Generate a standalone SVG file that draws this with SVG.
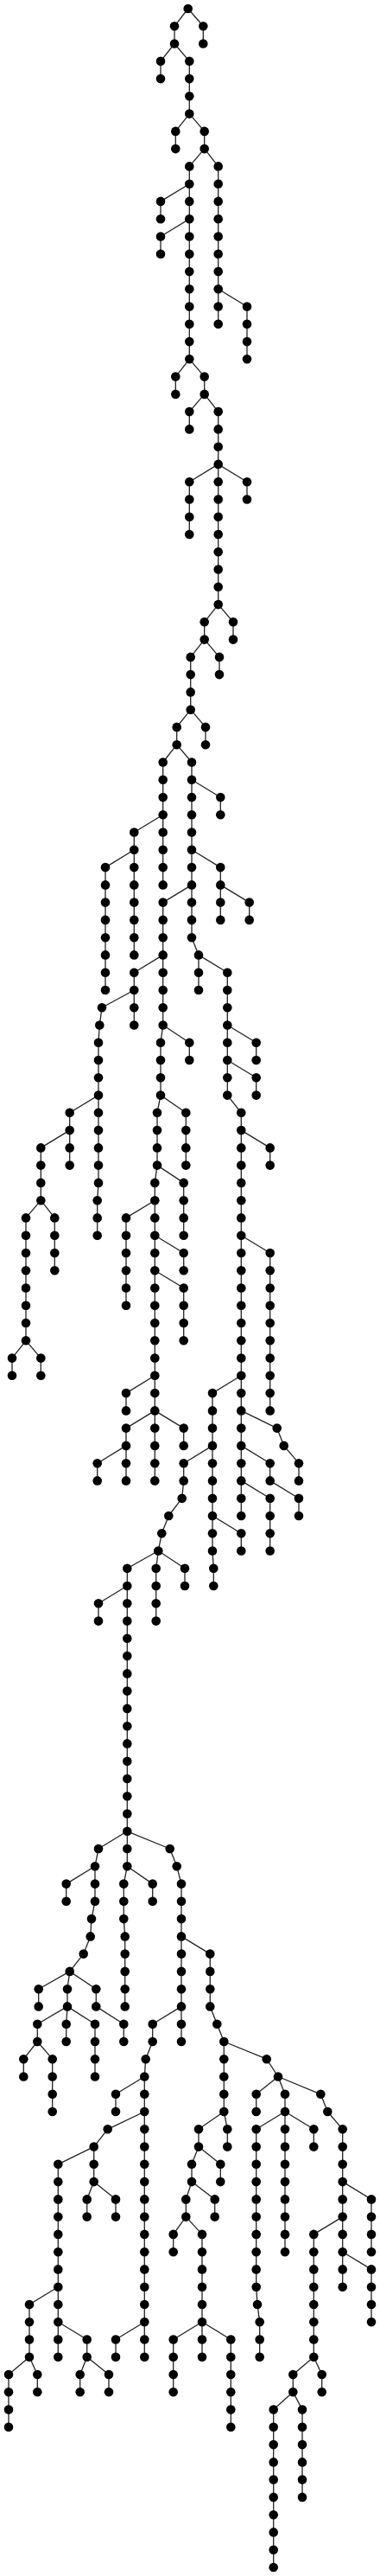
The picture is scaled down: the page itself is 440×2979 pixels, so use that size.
<svg xmlns="http://www.w3.org/2000/svg" width="440" height="2979" viewBox="0 0 440 2979">
<style>
.e path{stroke:#222;stroke-width:1.3;fill:none}
circle{fill:#000}
</style>
<rect width="440" height="2979" fill="#fff"/>
<g id="connectors" class="e">
<path d="M217.7 10L202 30.3"/><path d="M217.7 10L235.3 30.3"/>
<path d="M202 30.3L202 50.5"/><path d="M235.3 30.3L235.3 50.5"/>
<path d="M202 50.5L186 70.8"/><path d="M202 50.5L219.3 70.8"/>
<path d="M186 70.8L186 91.1"/><path d="M219.3 70.8L219.3 91.1"/>
<path d="M219.3 91.1L219.3 111.3"/>
<path d="M219.3 111.3L219.3 131.6"/>
<path d="M219.3 131.6L203.3 151.9"/><path d="M219.3 131.6L236.7 151.9"/>
<path d="M203.3 151.9L203.3 172.1"/><path d="M236.7 151.9L236.7 172.1"/>
<path d="M236.7 172.1L219.3 192.4"/><path d="M236.7 172.1L252.7 192.4"/>
<path d="M219.3 192.4L219.3 212.7"/><path d="M252.7 192.4L252.7 212.7"/>
<path d="M219.3 212.7L186 232.9"/><path d="M219.3 212.7L219.3 232.9"/><path d="M252.7 212.7L252.7 232.9"/>
<path d="M186 232.9L186 253.2"/><path d="M219.3 232.9L219.3 253.2"/><path d="M252.7 232.9L252.7 253.2"/>
<path d="M219.3 253.2L186 273.5"/><path d="M219.3 253.2L219.3 273.5"/><path d="M252.7 253.2L252.7 273.5"/>
<path d="M186 273.5L186 293.7"/><path d="M219.3 273.5L219.3 293.7"/><path d="M252.7 273.5L252.7 293.7"/>
<path d="M219.3 293.7L219.3 314"/><path d="M252.7 293.7L252.7 314"/>
<path d="M219.3 314L219.3 334.3"/><path d="M252.7 314L252.7 334.3"/>
<path d="M219.3 334.3L219.3 354.5"/><path d="M252.7 334.3L252.7 354.5"/><path d="M252.7 334.3L286 354.5"/>
<path d="M219.3 354.5L219.3 374.8"/><path d="M252.7 354.5L252.7 374.8"/><path d="M286 354.5L286 374.8"/>
<path d="M219.3 374.8L219.3 395.1"/><path d="M286 374.8L286 395.1"/>
<path d="M219.3 395.1L219.3 415.3"/><path d="M286 395.1L286 415.3"/>
<path d="M219.3 415.3L203.3 435.6"/><path d="M219.3 415.3L236.7 435.6"/>
<path d="M203.3 435.6L203.3 455.9"/><path d="M236.7 435.6L236.7 455.9"/>
<path d="M236.7 455.9L219.3 476.1"/><path d="M236.7 455.9L252.7 476.1"/>
<path d="M219.3 476.1L219.3 496.4"/><path d="M252.7 476.1L252.7 496.4"/>
<path d="M252.7 496.4L252.7 516.7"/>
<path d="M252.7 516.7L252.7 536.9"/>
<path d="M252.7 536.9L219.3 557.2"/><path d="M252.7 536.9L252.7 557.2"/><path d="M252.7 536.9L286 557.2"/>
<path d="M219.3 557.2L219.3 577.5"/><path d="M252.7 557.2L252.7 577.5"/><path d="M286 557.2L286 577.5"/>
<path d="M219.3 577.5L219.3 597.7"/><path d="M252.7 577.5L252.7 597.7"/>
<path d="M219.3 597.7L219.3 618"/><path d="M252.7 597.7L252.7 618"/>
<path d="M252.7 618L252.7 638.3"/><path d="M252.7 638.3L252.7 658.5"/><path d="M252.7 658.5L252.7 678.8"/><path d="M252.7 678.8L252.7 699.1"/>
<path d="M252.7 699.1L236.7 719.3"/><path d="M252.7 699.1L270 719.3"/>
<path d="M236.7 719.3L236.7 739.6"/><path d="M270 719.3L270 739.6"/>
<path d="M236.7 739.6L220.7 759.9"/><path d="M236.7 739.6L254 759.9"/>
<path d="M220.7 759.9L220.7 780.1"/><path d="M254 759.9L254 780.1"/>
<path d="M220.7 780.1L220.7 800.4"/>
<path d="M220.7 800.4L220.7 820.7"/>
<path d="M220.7 820.7L204.7 840.9"/><path d="M220.7 820.7L238 840.9"/>
<path d="M204.7 840.9L204.7 861.2"/><path d="M238 840.9L238 861.2"/>
<path d="M204.7 861.2L188.7 881.5"/><path d="M204.7 861.2L222 881.5"/>
<path d="M188.7 881.5L188.7 901.7"/><path d="M222 881.5L222 901.7"/>
<path d="M188.7 901.7L188.7 922"/><path d="M222 901.7L222 922"/><path d="M222 901.7L255.3 922"/>
<path d="M188.7 922L188.7 942.3"/><path d="M222 922L222 942.3"/><path d="M255.3 922L255.3 942.3"/>
<path d="M188.7 942.3L155.3 962.5"/><path d="M188.7 942.3L188.7 962.5"/><path d="M222 942.3L222 962.5"/>
<path d="M155.3 962.5L155.3 982.8"/><path d="M188.7 962.5L188.7 982.8"/><path d="M222 962.5L222 982.8"/>
<path d="M155.3 982.8L122 1003.1"/><path d="M155.3 982.8L155.3 1003.1"/><path d="M188.7 982.8L188.7 1003.1"/><path d="M222 982.8L222 1003.1"/><path d="M222 982.8L255.3 1003.1"/>
<path d="M122 1003.1L122 1023.4"/><path d="M155.3 1003.1L155.3 1023.4"/><path d="M188.7 1003.1L188.7 1023.4"/><path d="M222 1003.1L222 1023.4"/><path d="M255.3 1003.1L255.3 1023.4"/>
<path d="M122 1023.4L122 1043.6"/><path d="M155.3 1023.4L155.3 1043.6"/><path d="M222 1023.4L188.7 1043.6"/><path d="M222 1023.4L222 1043.6"/><path d="M255.3 1023.4L255.3 1043.6"/><path d="M255.3 1023.4L288.7 1043.6"/>
<path d="M122 1043.6L122 1063.9"/><path d="M155.3 1043.6L155.3 1063.9"/><path d="M188.7 1043.6L188.7 1063.9"/><path d="M222 1043.6L222 1063.9"/><path d="M255.3 1043.6L255.3 1063.9"/><path d="M288.7 1043.6L288.7 1063.9"/>
<path d="M122 1063.9L122 1084.2"/><path d="M155.3 1063.9L155.3 1084.2"/><path d="M188.7 1063.9L188.7 1084.2"/><path d="M222 1063.9L222 1084.2"/>
<path d="M122 1084.2L122 1104.4"/><path d="M155.3 1084.2L155.3 1104.4"/><path d="M188.7 1084.2L188.7 1104.4"/><path d="M222 1084.2L230 1104.4"/>
<path d="M122 1104.4L122 1124.7"/><path d="M188.7 1104.4L155.3 1124.7"/><path d="M188.7 1104.4L188.7 1124.7"/><path d="M230 1104.4L230 1124.7"/><path d="M230 1104.4L263.3 1124.7"/>
<path d="M122 1124.7L122 1145"/><path d="M155.3 1124.7L155.3 1145"/><path d="M188.7 1124.7L188.7 1145"/><path d="M230 1124.7L230 1145"/><path d="M263.3 1124.7L263.3 1145"/>
<path d="M155.3 1145L118 1165.2"/><path d="M155.3 1145L155.3 1165.2"/><path d="M188.7 1145L188.7 1165.2"/><path d="M263.3 1145L263.3 1165.2"/>
<path d="M118 1165.2L115.3 1185.5"/><path d="M155.3 1165.2L155.3 1185.5"/><path d="M188.7 1165.2L188.7 1185.5"/><path d="M263.3 1165.2L263.3 1185.5"/>
<path d="M115.3 1185.5L114 1205.8"/><path d="M188.7 1185.5L186 1205.8"/><path d="M188.7 1185.5L219.3 1205.8"/><path d="M263.3 1185.5L263.3 1205.8"/><path d="M263.3 1185.5L296.7 1205.8"/>
<path d="M114 1205.8L114 1226"/><path d="M186 1205.8L186 1226"/><path d="M219.3 1205.8L219.3 1226"/><path d="M263.3 1205.8L263.3 1226"/><path d="M296.7 1205.8L296.7 1226"/>
<path d="M114 1226L114 1246.3"/><path d="M186 1226L186 1246.3"/><path d="M263.3 1226L263.3 1246.3"/><path d="M263.3 1226L296.7 1246.3"/>
<path d="M114 1246.3L114 1266.6"/><path d="M186 1246.3L186 1266.6"/><path d="M263.3 1246.3L263.3 1266.6"/><path d="M296.7 1246.3L296.7 1266.6"/>
<path d="M114 1266.6L80.7 1286.8"/><path d="M114 1266.6L114 1286.8"/><path d="M186 1266.6L182 1286.8"/><path d="M186 1266.6L215.3 1286.8"/><path d="M263.3 1266.6L279.3 1286.8"/>
<path d="M80.7 1286.8L80.7 1307.1"/><path d="M114 1286.8L114 1307.1"/><path d="M182 1286.8L182 1307.1"/><path d="M215.3 1286.8L215.3 1307.1"/><path d="M279.3 1286.8L279.3 1307.1"/>
<path d="M80.7 1307.1L47.3 1327.4"/><path d="M80.7 1307.1L80.7 1327.4"/><path d="M114 1307.1L114 1327.4"/><path d="M182 1307.1L182 1327.4"/><path d="M215.3 1307.1L215.3 1327.4"/><path d="M279.3 1307.1L279.3 1327.4"/><path d="M279.3 1307.1L312.7 1327.4"/>
<path d="M47.3 1327.4L47.3 1347.6"/><path d="M80.7 1327.4L80.7 1347.6"/><path d="M114 1327.4L114 1347.6"/><path d="M182 1327.4L182 1347.6"/><path d="M215.3 1327.4L215.3 1347.6"/><path d="M279.3 1327.4L279.3 1347.6"/><path d="M312.7 1327.4L312.7 1347.6"/>
<path d="M47.3 1347.6L47.3 1367.9"/><path d="M114 1347.6L114 1367.9"/><path d="M182 1347.6L179.3 1367.9"/><path d="M182 1347.6L212.7 1367.9"/><path d="M279.3 1347.6L279.3 1367.9"/>
<path d="M47.3 1367.9L47.3 1388.2"/><path d="M114 1367.9L112.7 1388.2"/><path d="M179.3 1367.9L179.3 1388.2"/><path d="M212.7 1367.9L212.7 1388.2"/><path d="M279.3 1367.9L279.3 1388.2"/>
<path d="M47.3 1388.2L30 1408.4"/><path d="M47.3 1388.2L63.3 1408.4"/><path d="M112.7 1388.2L112.7 1408.4"/><path d="M179.3 1388.2L146 1408.4"/><path d="M179.3 1388.2L179.3 1408.4"/><path d="M212.7 1388.2L212.7 1408.4"/><path d="M279.3 1388.2L279.3 1408.4"/>
<path d="M30 1408.4L30 1428.7"/><path d="M63.3 1408.4L63.3 1428.7"/><path d="M112.7 1408.4L112.7 1428.7"/><path d="M146 1408.4L146 1428.7"/><path d="M179.3 1408.4L179.3 1428.7"/><path d="M212.7 1408.4L212.7 1428.7"/><path d="M279.3 1408.4L279.3 1428.7"/>
<path d="M30 1428.7L30 1449"/><path d="M63.3 1428.7L63.3 1449"/><path d="M146 1428.7L146 1449"/><path d="M179.3 1428.7L179.3 1449"/><path d="M179.3 1428.7L212.7 1449"/><path d="M279.3 1428.7L279.3 1449"/><path d="M279.3 1428.7L312.7 1449"/>
<path d="M30 1449L30 1469.2"/><path d="M63.3 1449L63.3 1469.2"/><path d="M146 1449L146 1469.2"/><path d="M179.3 1449L179.3 1469.2"/><path d="M212.7 1449L212.7 1469.2"/><path d="M279.3 1449L279.3 1469.2"/><path d="M312.7 1449L312.7 1469.2"/>
<path d="M30 1469.2L30 1489.5"/><path d="M146 1469.2L146 1489.5"/><path d="M179.3 1469.2L179.3 1489.5"/><path d="M179.3 1469.2L212.7 1489.5"/><path d="M279.3 1469.2L279.3 1489.5"/><path d="M312.7 1469.2L312.7 1489.5"/>
<path d="M30 1489.5L30 1509.8"/><path d="M146 1489.5L146 1509.8"/><path d="M179.3 1489.5L179.3 1509.8"/><path d="M212.7 1489.5L212.7 1509.8"/><path d="M279.3 1489.5L279.3 1509.8"/><path d="M312.7 1489.5L312.7 1509.8"/>
<path d="M30 1509.8L30 1530"/><path d="M179.3 1509.8L179.3 1530"/><path d="M212.7 1509.8L212.7 1530"/><path d="M279.3 1509.8L279.3 1530"/><path d="M312.7 1509.8L312.7 1530"/>
<path d="M30 1530L30 1550.3"/><path d="M179.3 1530L179.3 1550.3"/><path d="M212.7 1530L212.7 1550.3"/><path d="M279.3 1530L279.3 1550.3"/><path d="M312.7 1530L312.7 1550.3"/>
<path d="M30 1550.3L14 1570.6"/><path d="M30 1550.3L47.3 1570.6"/><path d="M179.3 1550.3L179.3 1570.6"/><path d="M279.3 1550.3L279.3 1570.6"/><path d="M312.7 1550.3L312.7 1570.6"/>
<path d="M14 1570.6L14 1590.8"/><path d="M47.3 1570.6L47.3 1590.8"/><path d="M179.3 1570.6L179.3 1590.8"/><path d="M279.3 1570.6L279.3 1590.8"/><path d="M312.7 1570.6L312.7 1590.8"/>
<path d="M179.3 1590.8L146 1611.1"/><path d="M179.3 1590.8L179.3 1611.1"/><path d="M279.3 1590.8L246 1611.1"/><path d="M279.3 1590.8L279.3 1611.1"/><path d="M312.7 1590.8L312.7 1611.1"/>
<path d="M146 1611.1L146 1631.4"/><path d="M179.3 1611.1L179.3 1631.4"/><path d="M246 1611.1L246 1631.4"/><path d="M279.3 1611.1L279.3 1631.4"/><path d="M312.7 1611.1L312.7 1631.4"/>
<path d="M179.3 1631.4L146 1651.6"/><path d="M179.3 1631.4L179.3 1651.6"/><path d="M179.3 1631.4L212.7 1651.6"/><path d="M246 1631.4L246 1651.6"/><path d="M279.3 1631.4L279.3 1651.6"/><path d="M279.3 1631.4L320.7 1651.6"/>
<path d="M146 1651.6L146 1671.9"/><path d="M179.3 1651.6L179.3 1671.9"/><path d="M212.7 1651.6L212.7 1671.9"/><path d="M246 1651.6L246 1671.9"/><path d="M279.3 1651.6L279.3 1671.9"/><path d="M320.7 1651.6L328.7 1671.9"/>
<path d="M146 1671.9L112.7 1692.2"/><path d="M146 1671.9L146 1692.2"/><path d="M179.3 1671.9L179.3 1692.2"/><path d="M246 1671.9L212.7 1692.2"/><path d="M246 1671.9L246 1692.2"/><path d="M279.3 1671.9L279.3 1692.2"/><path d="M279.3 1671.9L312.7 1692.2"/><path d="M328.7 1671.9L346 1692.2"/>
<path d="M112.7 1692.2L112.7 1712.4"/><path d="M146 1692.2L146 1712.4"/><path d="M179.3 1692.2L179.3 1712.4"/><path d="M212.7 1692.2L212.7 1712.4"/><path d="M246 1692.2L246 1712.4"/><path d="M279.3 1692.2L279.3 1712.4"/><path d="M312.7 1692.2L312.7 1712.4"/><path d="M346 1692.2L346 1712.4"/>
<path d="M212.7 1712.4L210.7 1732.7"/><path d="M246 1712.4L246 1732.7"/><path d="M279.3 1712.4L279.3 1732.7"/><path d="M279.3 1712.4L312.7 1732.7"/><path d="M312.7 1712.4L346 1732.7"/>
<path d="M210.7 1732.7L195.3 1753"/><path d="M246 1732.7L246 1753"/><path d="M279.3 1732.7L279.3 1753"/><path d="M312.7 1732.7L312.7 1753"/><path d="M346 1732.7L346 1753"/>
<path d="M195.3 1753L187.3 1773.2"/><path d="M246 1753L246 1773.2"/><path d="M246 1753L279.3 1773.2"/><path d="M312.7 1753L312.7 1773.2"/>
<path d="M187.3 1773.2L183.3 1793.5"/><path d="M246 1773.2L246 1793.5"/><path d="M279.3 1773.2L279.3 1793.5"/><path d="M312.7 1773.2L312.7 1793.5"/>
<path d="M183.3 1793.5L147.3 1813.8"/><path d="M183.3 1793.5L180.7 1813.8"/><path d="M183.3 1793.5L214 1813.8"/><path d="M246 1793.5L247.3 1813.8"/>
<path d="M147.3 1813.8L147.3 1834"/><path d="M180.7 1813.8L180.7 1834"/><path d="M214 1813.8L214 1834"/><path d="M247.3 1813.8L247.3 1834"/>
<path d="M147.3 1834L114 1854.3"/><path d="M147.3 1834L147.3 1854.3"/><path d="M180.7 1834L180.7 1854.3"/>
<path d="M114 1854.3L114 1874.6"/><path d="M147.3 1854.3L147.3 1874.6"/><path d="M180.7 1854.3L180.7 1874.6"/>
<path d="M147.3 1874.6L147.3 1894.8"/><path d="M147.3 1894.8L147.3 1915.1"/><path d="M147.3 1915.1L147.3 1935.4"/><path d="M147.3 1935.4L147.3 1955.6"/><path d="M147.3 1955.6L147.3 1975.9"/><path d="M147.3 1975.9L147.3 1996.2"/><path d="M147.3 1996.2L147.3 2016.4"/><path d="M147.3 2016.4L147.3 2036.7"/><path d="M147.3 2036.7L147.3 2057"/><path d="M147.3 2057L147.3 2077.2"/><path d="M147.3 2077.2L147.3 2097.5"/><path d="M147.3 2097.5L147.3 2117.8"/>
<path d="M147.3 2117.8L114 2138"/><path d="M147.3 2117.8L147.3 2138"/><path d="M147.3 2117.8L196.7 2138"/>
<path d="M114 2138L110 2158.3"/><path d="M147.3 2138L147.3 2158.3"/><path d="M196.7 2138L204.7 2158.3"/>
<path d="M110 2158.3L76.7 2178.6"/><path d="M110 2158.3L110 2178.6"/><path d="M147.3 2158.3L143.3 2178.6"/><path d="M147.3 2158.3L176.7 2178.6"/><path d="M204.7 2158.3L210 2178.6"/>
<path d="M76.7 2178.6L76.7 2198.8"/><path d="M110 2178.6L110 2198.8"/><path d="M143.3 2178.6L143.3 2198.8"/><path d="M176.7 2178.6L176.7 2198.8"/><path d="M210 2178.6L210 2198.8"/>
<path d="M110 2198.8L106 2219.1"/><path d="M143.3 2198.8L143.3 2219.1"/><path d="M210 2198.8L210 2219.1"/>
<path d="M106 2219.1L104.7 2239.4"/><path d="M143.3 2219.1L144.7 2239.4"/><path d="M210 2219.1L210 2239.4"/>
<path d="M104.7 2239.4L96.7 2259.6"/><path d="M144.7 2239.4L144.7 2259.6"/><path d="M210 2239.4L210 2259.6"/><path d="M210 2239.4L243.3 2259.6"/>
<path d="M96.7 2259.6L80.7 2279.9"/><path d="M144.7 2259.6L144.7 2279.9"/><path d="M210 2259.6L210 2279.9"/><path d="M243.3 2259.6L243.3 2279.9"/>
<path d="M80.7 2279.9L44.7 2300.2"/><path d="M80.7 2279.9L78 2300.2"/><path d="M80.7 2279.9L111.3 2300.2"/><path d="M144.7 2279.9L144.7 2300.2"/><path d="M210 2279.9L210 2300.2"/><path d="M243.3 2279.9L243.3 2300.2"/>
<path d="M44.7 2300.2L44.7 2320.4"/><path d="M78 2300.2L78 2320.4"/><path d="M111.3 2300.2L111.3 2320.4"/><path d="M144.7 2300.2L144.7 2320.4"/><path d="M210 2300.2L210 2320.4"/><path d="M243.3 2300.2L243.3 2320.4"/>
<path d="M78 2320.4L43.3 2340.7"/><path d="M78 2320.4L76.7 2340.7"/><path d="M78 2320.4L110 2340.7"/><path d="M111.3 2320.4L143.3 2340.7"/><path d="M210 2320.4L176.7 2340.7"/><path d="M210 2320.4L210 2340.7"/><path d="M243.3 2320.4L251.3 2340.7"/>
<path d="M43.3 2340.7L43.3 2361"/><path d="M76.7 2340.7L76.7 2361"/><path d="M110 2340.7L110 2361"/><path d="M143.3 2340.7L143.3 2361"/><path d="M176.7 2340.7L176.7 2361"/><path d="M210 2340.7L210 2361"/><path d="M251.3 2340.7L259.3 2361"/>
<path d="M43.3 2361L27.3 2381.2"/><path d="M43.3 2361L60.7 2381.2"/><path d="M110 2361L110 2381.2"/><path d="M176.7 2361L168.7 2381.2"/><path d="M259.3 2361L259.3 2381.2"/><path d="M259.3 2361L308.7 2381.2"/>
<path d="M27.3 2381.2L27.3 2401.5"/><path d="M60.7 2381.2L60.7 2401.5"/><path d="M110 2381.2L110 2401.5"/><path d="M168.7 2381.2L167.3 2401.5"/><path d="M259.3 2381.2L259.3 2401.5"/><path d="M308.7 2381.2L322 2401.5"/>
<path d="M60.7 2401.5L60.7 2421.8"/><path d="M167.3 2401.5L134 2421.8"/><path d="M167.3 2401.5L167.3 2421.8"/><path d="M259.3 2401.5L259.3 2421.8"/><path d="M322 2401.5L296.7 2421.8"/><path d="M322 2401.5L330 2421.8"/><path d="M322 2401.5L371.3 2421.8"/>
<path d="M60.7 2421.8L60.7 2442"/><path d="M134 2421.8L134 2442"/><path d="M167.3 2421.8L167.3 2442"/><path d="M259.3 2421.8L259.3 2442"/><path d="M296.7 2421.8L296.7 2442"/><path d="M330 2421.8L330 2442"/><path d="M371.3 2421.8L379.3 2442"/>
<path d="M167.3 2442L124.7 2462.3"/><path d="M167.3 2442L167.3 2462.3"/><path d="M259.3 2442L230 2462.3"/><path d="M259.3 2442L263.3 2462.3"/><path d="M330 2442L296.7 2462.3"/><path d="M330 2442L330 2462.3"/><path d="M330 2442L363.3 2462.3"/><path d="M379.3 2442L396.7 2462.3"/>
<path d="M124.7 2462.3L108.7 2482.6"/><path d="M167.3 2462.3L167.3 2482.6"/><path d="M230 2462.3L230 2482.6"/><path d="M263.3 2462.3L263.3 2482.6"/><path d="M296.7 2462.3L296.7 2482.6"/><path d="M330 2462.3L330 2482.6"/><path d="M363.3 2462.3L363.3 2482.6"/><path d="M396.7 2462.3L396.7 2482.6"/>
<path d="M108.7 2482.6L67.3 2502.8"/><path d="M108.7 2482.6L108.7 2502.8"/><path d="M167.3 2482.6L167.3 2502.8"/><path d="M230 2482.6L222 2502.8"/><path d="M230 2482.6L255.3 2502.8"/><path d="M296.7 2482.6L296.7 2502.8"/><path d="M330 2482.6L330 2502.8"/><path d="M396.7 2482.6L396.7 2502.8"/>
<path d="M67.3 2502.8L67.3 2523.1"/><path d="M108.7 2502.8L108.7 2523.1"/><path d="M167.3 2502.8L167.3 2523.1"/><path d="M222 2502.8L222 2523.1"/><path d="M255.3 2502.8L255.3 2523.1"/><path d="M296.7 2502.8L296.7 2523.1"/><path d="M330 2502.8L330 2523.1"/><path d="M396.7 2502.8L396.7 2523.1"/>
<path d="M67.3 2523.1L67.3 2543.4"/><path d="M108.7 2523.1L100.7 2543.4"/><path d="M108.7 2523.1L134 2543.4"/><path d="M167.3 2523.1L167.3 2543.4"/><path d="M222 2523.1L215.3 2543.4"/><path d="M222 2523.1L248.7 2543.4"/><path d="M296.7 2523.1L296.7 2543.4"/><path d="M330 2523.1L330 2543.4"/><path d="M396.7 2523.1L396.7 2543.4"/><path d="M396.7 2523.1L430 2543.4"/>
<path d="M67.3 2543.4L67.3 2563.6"/><path d="M100.7 2543.4L100.7 2563.6"/><path d="M134 2543.4L134 2563.6"/><path d="M167.3 2543.4L167.3 2563.6"/><path d="M215.3 2543.4L215.3 2563.6"/><path d="M248.7 2543.4L248.7 2563.6"/><path d="M296.7 2543.4L296.7 2563.6"/><path d="M330 2543.4L330 2563.6"/><path d="M396.7 2543.4L396.7 2563.6"/><path d="M430 2543.4L430 2563.6"/>
<path d="M67.3 2563.6L67.3 2583.9"/><path d="M167.3 2563.6L167.3 2583.9"/><path d="M215.3 2563.6L200.7 2583.9"/><path d="M215.3 2563.6L234 2583.9"/><path d="M296.7 2563.6L296.7 2583.9"/><path d="M330 2563.6L330 2583.9"/><path d="M396.7 2563.6L363.3 2583.9"/><path d="M396.7 2563.6L396.7 2583.9"/><path d="M430 2563.6L430 2583.9"/>
<path d="M67.3 2583.9L67.3 2604.2"/><path d="M167.3 2583.9L167.3 2604.2"/><path d="M200.7 2583.9L200.7 2604.2"/><path d="M234 2583.9L234 2604.2"/><path d="M296.7 2583.9L296.7 2604.2"/><path d="M330 2583.9L330 2604.2"/><path d="M363.3 2583.9L363.3 2604.2"/><path d="M396.7 2583.9L396.7 2604.2"/><path d="M430 2583.9L430 2604.2"/>
<path d="M67.3 2604.2L67.3 2624.4"/><path d="M167.3 2604.2L167.3 2624.4"/><path d="M234 2604.2L234 2624.4"/><path d="M296.7 2604.2L296.7 2624.4"/><path d="M363.3 2604.2L363.3 2624.4"/><path d="M396.7 2604.2L396.7 2624.4"/><path d="M396.7 2604.2L430 2624.4"/>
<path d="M67.3 2624.4L67.3 2644.7"/><path d="M167.3 2624.4L167.3 2644.7"/><path d="M234 2624.4L234 2644.7"/><path d="M296.7 2624.4L296.7 2644.7"/><path d="M363.3 2624.4L363.3 2644.7"/><path d="M396.7 2624.4L396.7 2644.7"/><path d="M430 2624.4L430 2644.7"/>
<path d="M67.3 2644.7L34 2665"/><path d="M67.3 2644.7L67.3 2665"/><path d="M167.3 2644.7L167.3 2665"/><path d="M234 2644.7L234 2665"/><path d="M296.7 2644.7L298 2665"/><path d="M363.3 2644.7L363.3 2665"/><path d="M430 2644.7L430 2665"/>
<path d="M34 2665L34 2685.2"/><path d="M67.3 2665L67.3 2685.2"/><path d="M167.3 2665L167.3 2685.2"/><path d="M234 2665L234 2685.2"/><path d="M298 2665L300.7 2685.2"/><path d="M363.3 2665L363.3 2685.2"/><path d="M430 2665L430 2685.2"/>
<path d="M34 2685.2L34 2705.5"/><path d="M67.3 2685.2L67.3 2705.5"/><path d="M67.3 2685.2L100.7 2705.5"/><path d="M167.3 2685.2L134 2705.5"/><path d="M167.3 2685.2L167.3 2705.5"/><path d="M234 2685.2L200.7 2705.5"/><path d="M234 2685.2L234 2705.5"/><path d="M234 2685.2L267.3 2705.5"/><path d="M300.7 2685.2L300.7 2705.5"/><path d="M363.3 2685.2L363.3 2705.5"/>
<path d="M34 2705.5L34 2725.8"/><path d="M67.3 2705.5L67.3 2725.8"/><path d="M100.7 2705.5L100.7 2725.8"/><path d="M134 2705.5L134 2725.8"/><path d="M167.3 2705.5L167.3 2725.8"/><path d="M200.7 2705.5L200.7 2725.8"/><path d="M234 2705.5L234 2725.8"/><path d="M267.3 2705.5L267.3 2725.8"/><path d="M300.7 2705.5L300.7 2725.8"/><path d="M363.3 2705.5L363.3 2725.8"/>
<path d="M34 2725.8L10 2746"/><path d="M34 2725.8L43.3 2746"/><path d="M100.7 2725.8L92.7 2746"/><path d="M100.7 2725.8L126 2746"/><path d="M200.7 2725.8L200.7 2746"/><path d="M267.3 2725.8L267.3 2746"/><path d="M363.3 2725.8L339.3 2746"/><path d="M363.3 2725.8L372.7 2746"/>
<path d="M10 2746L10 2766.3"/><path d="M43.3 2746L43.3 2766.3"/><path d="M92.7 2746L92.7 2766.3"/><path d="M126 2746L126 2766.3"/><path d="M200.7 2746L200.7 2766.3"/><path d="M267.3 2746L267.3 2766.3"/><path d="M339.3 2746L339.3 2766.3"/><path d="M372.7 2746L372.7 2766.3"/>
<path d="M10 2766.3L10 2786.6"/><path d="M267.3 2766.3L267.3 2786.6"/><path d="M339.3 2766.3L316.7 2786.6"/><path d="M339.3 2766.3L350 2786.6"/>
<path d="M10 2786.6L10 2806.8"/><path d="M267.3 2786.6L267.3 2806.8"/><path d="M316.7 2786.6L316.7 2806.8"/><path d="M350 2786.6L350 2806.8"/>
<path d="M316.7 2806.8L316.7 2827.1"/><path d="M350 2806.8L350 2827.1"/>
<path d="M316.7 2827.1L316.7 2847.4"/><path d="M350 2827.1L350 2847.4"/>
<path d="M316.7 2847.4L316.7 2867.6"/><path d="M350 2847.4L350 2867.6"/>
<path d="M316.7 2867.6L316.7 2887.9"/><path d="M350 2867.6L350 2887.9"/>
<path d="M316.7 2887.9L316.7 2908.2"/><path d="M316.7 2908.2L316.7 2928.4"/><path d="M316.7 2928.4L316.7 2948.7"/><path d="M316.7 2948.7L316.7 2969"/>
</g>
<g id="nodes">
<g id="n0_0"><circle cx="217.7" cy="10" r="5.3"/></g>
<g id="n1_0"><circle cx="202" cy="30.3" r="5.3"/></g><g id="n1_1"><circle cx="235.3" cy="30.3" r="5.3"/></g>
<g id="n2_0"><circle cx="202" cy="50.5" r="5.3"/></g><g id="n2_1"><circle cx="235.3" cy="50.5" r="5.3"/></g>
<g id="n3_0"><circle cx="186" cy="70.8" r="5.3"/></g><g id="n3_1"><circle cx="219.3" cy="70.8" r="5.3"/></g>
<g id="n4_0"><circle cx="186" cy="91.1" r="5.3"/></g><g id="n4_1"><circle cx="219.3" cy="91.1" r="5.3"/></g>
<g id="n5_0"><circle cx="219.3" cy="111.3" r="5.3"/></g>
<g id="n6_0"><circle cx="219.3" cy="131.6" r="5.3"/></g>
<g id="n7_0"><circle cx="203.3" cy="151.9" r="5.3"/></g><g id="n7_1"><circle cx="236.7" cy="151.9" r="5.3"/></g>
<g id="n8_0"><circle cx="203.3" cy="172.1" r="5.3"/></g><g id="n8_1"><circle cx="236.7" cy="172.1" r="5.3"/></g>
<g id="n9_0"><circle cx="219.3" cy="192.4" r="5.3"/></g><g id="n9_1"><circle cx="252.7" cy="192.4" r="5.3"/></g>
<g id="n10_0"><circle cx="219.3" cy="212.7" r="5.3"/></g><g id="n10_1"><circle cx="252.7" cy="212.7" r="5.3"/></g>
<g id="n11_0"><circle cx="186" cy="232.9" r="5.3"/></g><g id="n11_1"><circle cx="219.3" cy="232.9" r="5.3"/></g><g id="n11_2"><circle cx="252.7" cy="232.9" r="5.3"/></g>
<g id="n12_0"><circle cx="186" cy="253.2" r="5.3"/></g><g id="n12_1"><circle cx="219.3" cy="253.2" r="5.3"/></g><g id="n12_2"><circle cx="252.7" cy="253.2" r="5.3"/></g>
<g id="n13_0"><circle cx="186" cy="273.5" r="5.3"/></g><g id="n13_1"><circle cx="219.3" cy="273.5" r="5.3"/></g><g id="n13_2"><circle cx="252.7" cy="273.5" r="5.3"/></g>
<g id="n14_0"><circle cx="186" cy="293.7" r="5.3"/></g><g id="n14_1"><circle cx="219.3" cy="293.7" r="5.3"/></g><g id="n14_2"><circle cx="252.7" cy="293.7" r="5.3"/></g>
<g id="n15_0"><circle cx="219.3" cy="314" r="5.3"/></g><g id="n15_1"><circle cx="252.7" cy="314" r="5.3"/></g>
<g id="n16_0"><circle cx="219.3" cy="334.3" r="5.3"/></g><g id="n16_1"><circle cx="252.7" cy="334.3" r="5.3"/></g>
<g id="n17_0"><circle cx="219.3" cy="354.5" r="5.3"/></g><g id="n17_1"><circle cx="252.7" cy="354.5" r="5.3"/></g><g id="n17_2"><circle cx="286" cy="354.5" r="5.3"/></g>
<g id="n18_0"><circle cx="219.3" cy="374.8" r="5.3"/></g><g id="n18_1"><circle cx="252.7" cy="374.8" r="5.3"/></g><g id="n18_2"><circle cx="286" cy="374.8" r="5.3"/></g>
<g id="n19_0"><circle cx="219.3" cy="395.1" r="5.3"/></g><g id="n19_1"><circle cx="286" cy="395.1" r="5.3"/></g>
<g id="n20_0"><circle cx="219.3" cy="415.3" r="5.3"/></g><g id="n20_1"><circle cx="286" cy="415.3" r="5.3"/></g>
<g id="n21_0"><circle cx="203.3" cy="435.6" r="5.3"/></g><g id="n21_1"><circle cx="236.7" cy="435.6" r="5.3"/></g>
<g id="n22_0"><circle cx="203.3" cy="455.9" r="5.3"/></g><g id="n22_1"><circle cx="236.7" cy="455.9" r="5.3"/></g>
<g id="n23_0"><circle cx="219.3" cy="476.1" r="5.3"/></g><g id="n23_1"><circle cx="252.7" cy="476.1" r="5.3"/></g>
<g id="n24_0"><circle cx="219.3" cy="496.4" r="5.3"/></g><g id="n24_1"><circle cx="252.7" cy="496.4" r="5.3"/></g>
<g id="n25_0"><circle cx="252.7" cy="516.7" r="5.3"/></g>
<g id="n26_0"><circle cx="252.7" cy="536.9" r="5.3"/></g>
<g id="n27_0"><circle cx="219.3" cy="557.2" r="5.3"/></g><g id="n27_1"><circle cx="252.7" cy="557.2" r="5.3"/></g><g id="n27_2"><circle cx="286" cy="557.2" r="5.3"/></g>
<g id="n28_0"><circle cx="219.3" cy="577.5" r="5.3"/></g><g id="n28_1"><circle cx="252.7" cy="577.5" r="5.3"/></g><g id="n28_2"><circle cx="286" cy="577.5" r="5.3"/></g>
<g id="n29_0"><circle cx="219.3" cy="597.7" r="5.3"/></g><g id="n29_1"><circle cx="252.7" cy="597.7" r="5.3"/></g>
<g id="n30_0"><circle cx="219.3" cy="618" r="5.3"/></g><g id="n30_1"><circle cx="252.7" cy="618" r="5.3"/></g>
<g id="n31_0"><circle cx="252.7" cy="638.3" r="5.3"/></g>
<g id="n32_0"><circle cx="252.7" cy="658.5" r="5.3"/></g>
<g id="n33_0"><circle cx="252.7" cy="678.8" r="5.3"/></g>
<g id="n34_0"><circle cx="252.7" cy="699.1" r="5.3"/></g>
<g id="n35_0"><circle cx="236.7" cy="719.3" r="5.3"/></g><g id="n35_1"><circle cx="270" cy="719.3" r="5.3"/></g>
<g id="n36_0"><circle cx="236.7" cy="739.6" r="5.3"/></g><g id="n36_1"><circle cx="270" cy="739.6" r="5.3"/></g>
<g id="n37_0"><circle cx="220.7" cy="759.9" r="5.3"/></g><g id="n37_1"><circle cx="254" cy="759.9" r="5.3"/></g>
<g id="n38_0"><circle cx="220.7" cy="780.1" r="5.3"/></g><g id="n38_1"><circle cx="254" cy="780.1" r="5.3"/></g>
<g id="n39_0"><circle cx="220.7" cy="800.4" r="5.3"/></g>
<g id="n40_0"><circle cx="220.7" cy="820.7" r="5.3"/></g>
<g id="n41_0"><circle cx="204.7" cy="840.9" r="5.3"/></g><g id="n41_1"><circle cx="238" cy="840.9" r="5.3"/></g>
<g id="n42_0"><circle cx="204.7" cy="861.2" r="5.3"/></g><g id="n42_1"><circle cx="238" cy="861.2" r="5.3"/></g>
<g id="n43_0"><circle cx="188.7" cy="881.5" r="5.3"/></g><g id="n43_1"><circle cx="222" cy="881.5" r="5.3"/></g>
<g id="n44_0"><circle cx="188.7" cy="901.7" r="5.3"/></g><g id="n44_1"><circle cx="222" cy="901.7" r="5.3"/></g>
<g id="n45_0"><circle cx="188.7" cy="922" r="5.3"/></g><g id="n45_1"><circle cx="222" cy="922" r="5.3"/></g><g id="n45_2"><circle cx="255.3" cy="922" r="5.3"/></g>
<g id="n46_0"><circle cx="188.7" cy="942.3" r="5.3"/></g><g id="n46_1"><circle cx="222" cy="942.3" r="5.3"/></g><g id="n46_2"><circle cx="255.3" cy="942.3" r="5.3"/></g>
<g id="n47_0"><circle cx="155.3" cy="962.5" r="5.3"/></g><g id="n47_1"><circle cx="188.7" cy="962.5" r="5.3"/></g><g id="n47_2"><circle cx="222" cy="962.5" r="5.3"/></g>
<g id="n48_0"><circle cx="155.3" cy="982.8" r="5.3"/></g><g id="n48_1"><circle cx="188.7" cy="982.8" r="5.3"/></g><g id="n48_2"><circle cx="222" cy="982.8" r="5.3"/></g>
<g id="n49_0"><circle cx="122" cy="1003.1" r="5.3"/></g><g id="n49_1"><circle cx="155.3" cy="1003.1" r="5.3"/></g><g id="n49_2"><circle cx="188.7" cy="1003.1" r="5.3"/></g><g id="n49_3"><circle cx="222" cy="1003.1" r="5.3"/></g><g id="n49_4"><circle cx="255.3" cy="1003.1" r="5.3"/></g>
<g id="n50_0"><circle cx="122" cy="1023.4" r="5.3"/></g><g id="n50_1"><circle cx="155.3" cy="1023.4" r="5.3"/></g><g id="n50_2"><circle cx="188.7" cy="1023.4" r="5.3"/></g><g id="n50_3"><circle cx="222" cy="1023.4" r="5.3"/></g><g id="n50_4"><circle cx="255.3" cy="1023.4" r="5.3"/></g>
<g id="n51_0"><circle cx="122" cy="1043.6" r="5.3"/></g><g id="n51_1"><circle cx="155.3" cy="1043.6" r="5.3"/></g><g id="n51_2"><circle cx="188.7" cy="1043.6" r="5.3"/></g><g id="n51_3"><circle cx="222" cy="1043.6" r="5.3"/></g><g id="n51_4"><circle cx="255.3" cy="1043.6" r="5.3"/></g><g id="n51_5"><circle cx="288.7" cy="1043.6" r="5.3"/></g>
<g id="n52_0"><circle cx="122" cy="1063.9" r="5.3"/></g><g id="n52_1"><circle cx="155.3" cy="1063.9" r="5.3"/></g><g id="n52_2"><circle cx="188.7" cy="1063.9" r="5.3"/></g><g id="n52_3"><circle cx="222" cy="1063.9" r="5.3"/></g><g id="n52_4"><circle cx="255.3" cy="1063.9" r="5.3"/></g><g id="n52_5"><circle cx="288.7" cy="1063.9" r="5.3"/></g>
<g id="n53_0"><circle cx="122" cy="1084.2" r="5.3"/></g><g id="n53_1"><circle cx="155.3" cy="1084.2" r="5.3"/></g><g id="n53_2"><circle cx="188.7" cy="1084.2" r="5.3"/></g><g id="n53_3"><circle cx="222" cy="1084.2" r="5.3"/></g>
<g id="n54_0"><circle cx="122" cy="1104.4" r="5.3"/></g><g id="n54_1"><circle cx="155.3" cy="1104.4" r="5.3"/></g><g id="n54_2"><circle cx="188.7" cy="1104.4" r="5.3"/></g><g id="n54_3"><circle cx="230" cy="1104.4" r="5.3"/></g>
<g id="n55_0"><circle cx="122" cy="1124.7" r="5.3"/></g><g id="n55_1"><circle cx="155.3" cy="1124.7" r="5.3"/></g><g id="n55_2"><circle cx="188.7" cy="1124.7" r="5.3"/></g><g id="n55_3"><circle cx="230" cy="1124.7" r="5.3"/></g><g id="n55_4"><circle cx="263.3" cy="1124.7" r="5.3"/></g>
<g id="n56_0"><circle cx="122" cy="1145" r="5.3"/></g><g id="n56_1"><circle cx="155.3" cy="1145" r="5.3"/></g><g id="n56_2"><circle cx="188.7" cy="1145" r="5.3"/></g><g id="n56_3"><circle cx="230" cy="1145" r="5.3"/></g><g id="n56_4"><circle cx="263.3" cy="1145" r="5.3"/></g>
<g id="n57_0"><circle cx="118" cy="1165.2" r="5.3"/></g><g id="n57_1"><circle cx="155.3" cy="1165.2" r="5.3"/></g><g id="n57_2"><circle cx="188.7" cy="1165.2" r="5.3"/></g><g id="n57_3"><circle cx="263.3" cy="1165.2" r="5.3"/></g>
<g id="n58_0"><circle cx="115.3" cy="1185.5" r="5.3"/></g><g id="n58_1"><circle cx="155.3" cy="1185.5" r="5.3"/></g><g id="n58_2"><circle cx="188.7" cy="1185.5" r="5.3"/></g><g id="n58_3"><circle cx="263.3" cy="1185.5" r="5.3"/></g>
<g id="n59_0"><circle cx="114" cy="1205.8" r="5.3"/></g><g id="n59_1"><circle cx="186" cy="1205.8" r="5.3"/></g><g id="n59_2"><circle cx="219.3" cy="1205.8" r="5.3"/></g><g id="n59_3"><circle cx="263.3" cy="1205.8" r="5.3"/></g><g id="n59_4"><circle cx="296.7" cy="1205.8" r="5.3"/></g>
<g id="n60_0"><circle cx="114" cy="1226" r="5.3"/></g><g id="n60_1"><circle cx="186" cy="1226" r="5.3"/></g><g id="n60_2"><circle cx="219.3" cy="1226" r="5.3"/></g><g id="n60_3"><circle cx="263.3" cy="1226" r="5.3"/></g><g id="n60_4"><circle cx="296.7" cy="1226" r="5.3"/></g>
<g id="n61_0"><circle cx="114" cy="1246.3" r="5.3"/></g><g id="n61_1"><circle cx="186" cy="1246.3" r="5.3"/></g><g id="n61_2"><circle cx="263.3" cy="1246.3" r="5.3"/></g><g id="n61_3"><circle cx="296.7" cy="1246.3" r="5.3"/></g>
<g id="n62_0"><circle cx="114" cy="1266.6" r="5.3"/></g><g id="n62_1"><circle cx="186" cy="1266.6" r="5.3"/></g><g id="n62_2"><circle cx="263.3" cy="1266.6" r="5.3"/></g><g id="n62_3"><circle cx="296.7" cy="1266.6" r="5.3"/></g>
<g id="n63_0"><circle cx="80.7" cy="1286.8" r="5.3"/></g><g id="n63_1"><circle cx="114" cy="1286.8" r="5.3"/></g><g id="n63_2"><circle cx="182" cy="1286.8" r="5.3"/></g><g id="n63_3"><circle cx="215.3" cy="1286.8" r="5.3"/></g><g id="n63_4"><circle cx="279.3" cy="1286.8" r="5.3"/></g>
<g id="n64_0"><circle cx="80.7" cy="1307.1" r="5.3"/></g><g id="n64_1"><circle cx="114" cy="1307.1" r="5.3"/></g><g id="n64_2"><circle cx="182" cy="1307.1" r="5.3"/></g><g id="n64_3"><circle cx="215.3" cy="1307.1" r="5.3"/></g><g id="n64_4"><circle cx="279.3" cy="1307.1" r="5.3"/></g>
<g id="n65_0"><circle cx="47.3" cy="1327.4" r="5.3"/></g><g id="n65_1"><circle cx="80.7" cy="1327.4" r="5.3"/></g><g id="n65_2"><circle cx="114" cy="1327.4" r="5.3"/></g><g id="n65_3"><circle cx="182" cy="1327.4" r="5.3"/></g><g id="n65_4"><circle cx="215.3" cy="1327.4" r="5.3"/></g><g id="n65_5"><circle cx="279.3" cy="1327.4" r="5.3"/></g><g id="n65_6"><circle cx="312.7" cy="1327.4" r="5.3"/></g>
<g id="n66_0"><circle cx="47.3" cy="1347.6" r="5.3"/></g><g id="n66_1"><circle cx="80.7" cy="1347.6" r="5.3"/></g><g id="n66_2"><circle cx="114" cy="1347.6" r="5.3"/></g><g id="n66_3"><circle cx="182" cy="1347.6" r="5.3"/></g><g id="n66_4"><circle cx="215.3" cy="1347.6" r="5.3"/></g><g id="n66_5"><circle cx="279.3" cy="1347.6" r="5.3"/></g><g id="n66_6"><circle cx="312.7" cy="1347.6" r="5.3"/></g>
<g id="n67_0"><circle cx="47.3" cy="1367.9" r="5.3"/></g><g id="n67_1"><circle cx="114" cy="1367.9" r="5.3"/></g><g id="n67_2"><circle cx="179.3" cy="1367.9" r="5.3"/></g><g id="n67_3"><circle cx="212.7" cy="1367.9" r="5.3"/></g><g id="n67_4"><circle cx="279.3" cy="1367.9" r="5.3"/></g>
<g id="n68_0"><circle cx="47.3" cy="1388.2" r="5.3"/></g><g id="n68_1"><circle cx="112.7" cy="1388.2" r="5.3"/></g><g id="n68_2"><circle cx="179.3" cy="1388.2" r="5.3"/></g><g id="n68_3"><circle cx="212.7" cy="1388.2" r="5.3"/></g><g id="n68_4"><circle cx="279.3" cy="1388.2" r="5.3"/></g>
<g id="n69_0"><circle cx="30" cy="1408.4" r="5.3"/></g><g id="n69_1"><circle cx="63.3" cy="1408.4" r="5.3"/></g><g id="n69_2"><circle cx="112.7" cy="1408.4" r="5.3"/></g><g id="n69_3"><circle cx="146" cy="1408.4" r="5.3"/></g><g id="n69_4"><circle cx="179.3" cy="1408.4" r="5.3"/></g><g id="n69_5"><circle cx="212.7" cy="1408.4" r="5.3"/></g><g id="n69_6"><circle cx="279.3" cy="1408.4" r="5.3"/></g>
<g id="n70_0"><circle cx="30" cy="1428.7" r="5.3"/></g><g id="n70_1"><circle cx="63.3" cy="1428.7" r="5.3"/></g><g id="n70_2"><circle cx="112.7" cy="1428.7" r="5.3"/></g><g id="n70_3"><circle cx="146" cy="1428.7" r="5.3"/></g><g id="n70_4"><circle cx="179.3" cy="1428.7" r="5.3"/></g><g id="n70_5"><circle cx="212.7" cy="1428.7" r="5.3"/></g><g id="n70_6"><circle cx="279.3" cy="1428.7" r="5.3"/></g>
<g id="n71_0"><circle cx="30" cy="1449" r="5.3"/></g><g id="n71_1"><circle cx="63.3" cy="1449" r="5.3"/></g><g id="n71_2"><circle cx="146" cy="1449" r="5.3"/></g><g id="n71_3"><circle cx="179.3" cy="1449" r="5.3"/></g><g id="n71_4"><circle cx="212.7" cy="1449" r="5.3"/></g><g id="n71_5"><circle cx="279.3" cy="1449" r="5.3"/></g><g id="n71_6"><circle cx="312.7" cy="1449" r="5.3"/></g>
<g id="n72_0"><circle cx="30" cy="1469.2" r="5.3"/></g><g id="n72_1"><circle cx="63.3" cy="1469.2" r="5.3"/></g><g id="n72_2"><circle cx="146" cy="1469.2" r="5.3"/></g><g id="n72_3"><circle cx="179.3" cy="1469.2" r="5.3"/></g><g id="n72_4"><circle cx="212.7" cy="1469.2" r="5.3"/></g><g id="n72_5"><circle cx="279.3" cy="1469.2" r="5.3"/></g><g id="n72_6"><circle cx="312.7" cy="1469.2" r="5.3"/></g>
<g id="n73_0"><circle cx="30" cy="1489.5" r="5.3"/></g><g id="n73_1"><circle cx="146" cy="1489.5" r="5.3"/></g><g id="n73_2"><circle cx="179.3" cy="1489.5" r="5.3"/></g><g id="n73_3"><circle cx="212.7" cy="1489.5" r="5.3"/></g><g id="n73_4"><circle cx="279.3" cy="1489.5" r="5.3"/></g><g id="n73_5"><circle cx="312.7" cy="1489.5" r="5.3"/></g>
<g id="n74_0"><circle cx="30" cy="1509.8" r="5.3"/></g><g id="n74_1"><circle cx="146" cy="1509.8" r="5.3"/></g><g id="n74_2"><circle cx="179.3" cy="1509.8" r="5.3"/></g><g id="n74_3"><circle cx="212.7" cy="1509.8" r="5.3"/></g><g id="n74_4"><circle cx="279.3" cy="1509.8" r="5.3"/></g><g id="n74_5"><circle cx="312.7" cy="1509.8" r="5.3"/></g>
<g id="n75_0"><circle cx="30" cy="1530" r="5.3"/></g><g id="n75_1"><circle cx="179.3" cy="1530" r="5.3"/></g><g id="n75_2"><circle cx="212.7" cy="1530" r="5.3"/></g><g id="n75_3"><circle cx="279.3" cy="1530" r="5.3"/></g><g id="n75_4"><circle cx="312.7" cy="1530" r="5.3"/></g>
<g id="n76_0"><circle cx="30" cy="1550.3" r="5.3"/></g><g id="n76_1"><circle cx="179.3" cy="1550.3" r="5.3"/></g><g id="n76_2"><circle cx="212.7" cy="1550.3" r="5.3"/></g><g id="n76_3"><circle cx="279.3" cy="1550.3" r="5.3"/></g><g id="n76_4"><circle cx="312.7" cy="1550.3" r="5.3"/></g>
<g id="n77_0"><circle cx="14" cy="1570.6" r="5.3"/></g><g id="n77_1"><circle cx="47.3" cy="1570.6" r="5.3"/></g><g id="n77_2"><circle cx="179.3" cy="1570.6" r="5.3"/></g><g id="n77_3"><circle cx="279.3" cy="1570.6" r="5.3"/></g><g id="n77_4"><circle cx="312.7" cy="1570.6" r="5.3"/></g>
<g id="n78_0"><circle cx="14" cy="1590.8" r="5.3"/></g><g id="n78_1"><circle cx="47.3" cy="1590.8" r="5.3"/></g><g id="n78_2"><circle cx="179.3" cy="1590.8" r="5.3"/></g><g id="n78_3"><circle cx="279.3" cy="1590.8" r="5.3"/></g><g id="n78_4"><circle cx="312.7" cy="1590.8" r="5.3"/></g>
<g id="n79_0"><circle cx="146" cy="1611.1" r="5.3"/></g><g id="n79_1"><circle cx="179.3" cy="1611.1" r="5.3"/></g><g id="n79_2"><circle cx="246" cy="1611.1" r="5.3"/></g><g id="n79_3"><circle cx="279.3" cy="1611.1" r="5.3"/></g><g id="n79_4"><circle cx="312.7" cy="1611.1" r="5.3"/></g>
<g id="n80_0"><circle cx="146" cy="1631.4" r="5.3"/></g><g id="n80_1"><circle cx="179.3" cy="1631.4" r="5.3"/></g><g id="n80_2"><circle cx="246" cy="1631.4" r="5.3"/></g><g id="n80_3"><circle cx="279.3" cy="1631.4" r="5.3"/></g><g id="n80_4"><circle cx="312.7" cy="1631.4" r="5.3"/></g>
<g id="n81_0"><circle cx="146" cy="1651.6" r="5.3"/></g><g id="n81_1"><circle cx="179.3" cy="1651.6" r="5.3"/></g><g id="n81_2"><circle cx="212.7" cy="1651.6" r="5.3"/></g><g id="n81_3"><circle cx="246" cy="1651.6" r="5.3"/></g><g id="n81_4"><circle cx="279.3" cy="1651.6" r="5.3"/></g><g id="n81_5"><circle cx="320.7" cy="1651.6" r="5.3"/></g>
<g id="n82_0"><circle cx="146" cy="1671.9" r="5.3"/></g><g id="n82_1"><circle cx="179.3" cy="1671.9" r="5.3"/></g><g id="n82_2"><circle cx="212.7" cy="1671.9" r="5.3"/></g><g id="n82_3"><circle cx="246" cy="1671.9" r="5.3"/></g><g id="n82_4"><circle cx="279.3" cy="1671.9" r="5.3"/></g><g id="n82_5"><circle cx="328.7" cy="1671.9" r="5.3"/></g>
<g id="n83_0"><circle cx="112.7" cy="1692.2" r="5.3"/></g><g id="n83_1"><circle cx="146" cy="1692.2" r="5.3"/></g><g id="n83_2"><circle cx="179.3" cy="1692.2" r="5.3"/></g><g id="n83_3"><circle cx="212.7" cy="1692.2" r="5.3"/></g><g id="n83_4"><circle cx="246" cy="1692.2" r="5.3"/></g><g id="n83_5"><circle cx="279.3" cy="1692.2" r="5.3"/></g><g id="n83_6"><circle cx="312.7" cy="1692.2" r="5.3"/></g><g id="n83_7"><circle cx="346" cy="1692.2" r="5.3"/></g>
<g id="n84_0"><circle cx="112.7" cy="1712.4" r="5.3"/></g><g id="n84_1"><circle cx="146" cy="1712.4" r="5.3"/></g><g id="n84_2"><circle cx="179.3" cy="1712.4" r="5.3"/></g><g id="n84_3"><circle cx="212.7" cy="1712.4" r="5.3"/></g><g id="n84_4"><circle cx="246" cy="1712.4" r="5.3"/></g><g id="n84_5"><circle cx="279.3" cy="1712.4" r="5.3"/></g><g id="n84_6"><circle cx="312.7" cy="1712.4" r="5.3"/></g><g id="n84_7"><circle cx="346" cy="1712.4" r="5.3"/></g>
<g id="n85_0"><circle cx="210.7" cy="1732.7" r="5.3"/></g><g id="n85_1"><circle cx="246" cy="1732.7" r="5.3"/></g><g id="n85_2"><circle cx="279.3" cy="1732.7" r="5.3"/></g><g id="n85_3"><circle cx="312.7" cy="1732.7" r="5.3"/></g><g id="n85_4"><circle cx="346" cy="1732.7" r="5.3"/></g>
<g id="n86_0"><circle cx="195.3" cy="1753" r="5.3"/></g><g id="n86_1"><circle cx="246" cy="1753" r="5.3"/></g><g id="n86_2"><circle cx="279.3" cy="1753" r="5.3"/></g><g id="n86_3"><circle cx="312.7" cy="1753" r="5.3"/></g><g id="n86_4"><circle cx="346" cy="1753" r="5.3"/></g>
<g id="n87_0"><circle cx="187.3" cy="1773.2" r="5.3"/></g><g id="n87_1"><circle cx="246" cy="1773.2" r="5.3"/></g><g id="n87_2"><circle cx="279.3" cy="1773.2" r="5.3"/></g><g id="n87_3"><circle cx="312.7" cy="1773.2" r="5.3"/></g>
<g id="n88_0"><circle cx="183.3" cy="1793.5" r="5.3"/></g><g id="n88_1"><circle cx="246" cy="1793.5" r="5.3"/></g><g id="n88_2"><circle cx="279.3" cy="1793.5" r="5.3"/></g><g id="n88_3"><circle cx="312.7" cy="1793.5" r="5.3"/></g>
<g id="n89_0"><circle cx="147.3" cy="1813.8" r="5.3"/></g><g id="n89_1"><circle cx="180.7" cy="1813.8" r="5.3"/></g><g id="n89_2"><circle cx="214" cy="1813.8" r="5.3"/></g><g id="n89_3"><circle cx="247.3" cy="1813.8" r="5.3"/></g>
<g id="n90_0"><circle cx="147.3" cy="1834" r="5.3"/></g><g id="n90_1"><circle cx="180.7" cy="1834" r="5.3"/></g><g id="n90_2"><circle cx="214" cy="1834" r="5.3"/></g><g id="n90_3"><circle cx="247.3" cy="1834" r="5.3"/></g>
<g id="n91_0"><circle cx="114" cy="1854.3" r="5.3"/></g><g id="n91_1"><circle cx="147.3" cy="1854.3" r="5.3"/></g><g id="n91_2"><circle cx="180.7" cy="1854.3" r="5.3"/></g>
<g id="n92_0"><circle cx="114" cy="1874.6" r="5.3"/></g><g id="n92_1"><circle cx="147.3" cy="1874.6" r="5.3"/></g><g id="n92_2"><circle cx="180.7" cy="1874.6" r="5.3"/></g>
<g id="n93_0"><circle cx="147.3" cy="1894.8" r="5.3"/></g>
<g id="n94_0"><circle cx="147.3" cy="1915.1" r="5.3"/></g>
<g id="n95_0"><circle cx="147.3" cy="1935.4" r="5.3"/></g>
<g id="n96_0"><circle cx="147.3" cy="1955.6" r="5.3"/></g>
<g id="n97_0"><circle cx="147.3" cy="1975.9" r="5.3"/></g>
<g id="n98_0"><circle cx="147.3" cy="1996.2" r="5.3"/></g>
<g id="n99_0"><circle cx="147.3" cy="2016.4" r="5.3"/></g>
<g id="n100_0"><circle cx="147.3" cy="2036.7" r="5.3"/></g>
<g id="n101_0"><circle cx="147.3" cy="2057" r="5.3"/></g>
<g id="n102_0"><circle cx="147.3" cy="2077.2" r="5.3"/></g>
<g id="n103_0"><circle cx="147.3" cy="2097.5" r="5.3"/></g>
<g id="n104_0"><circle cx="147.3" cy="2117.8" r="5.3"/></g>
<g id="n105_0"><circle cx="114" cy="2138" r="5.3"/></g><g id="n105_1"><circle cx="147.3" cy="2138" r="5.3"/></g><g id="n105_2"><circle cx="196.7" cy="2138" r="5.3"/></g>
<g id="n106_0"><circle cx="110" cy="2158.3" r="5.3"/></g><g id="n106_1"><circle cx="147.3" cy="2158.3" r="5.3"/></g><g id="n106_2"><circle cx="204.7" cy="2158.3" r="5.3"/></g>
<g id="n107_0"><circle cx="76.7" cy="2178.6" r="5.3"/></g><g id="n107_1"><circle cx="110" cy="2178.6" r="5.3"/></g><g id="n107_2"><circle cx="143.3" cy="2178.6" r="5.3"/></g><g id="n107_3"><circle cx="176.7" cy="2178.6" r="5.3"/></g><g id="n107_4"><circle cx="210" cy="2178.6" r="5.3"/></g>
<g id="n108_0"><circle cx="76.7" cy="2198.8" r="5.3"/></g><g id="n108_1"><circle cx="110" cy="2198.8" r="5.3"/></g><g id="n108_2"><circle cx="143.3" cy="2198.8" r="5.3"/></g><g id="n108_3"><circle cx="176.7" cy="2198.8" r="5.3"/></g><g id="n108_4"><circle cx="210" cy="2198.8" r="5.3"/></g>
<g id="n109_0"><circle cx="106" cy="2219.1" r="5.3"/></g><g id="n109_1"><circle cx="143.3" cy="2219.1" r="5.3"/></g><g id="n109_2"><circle cx="210" cy="2219.1" r="5.3"/></g>
<g id="n110_0"><circle cx="104.7" cy="2239.4" r="5.3"/></g><g id="n110_1"><circle cx="144.7" cy="2239.4" r="5.3"/></g><g id="n110_2"><circle cx="210" cy="2239.4" r="5.3"/></g>
<g id="n111_0"><circle cx="96.7" cy="2259.6" r="5.3"/></g><g id="n111_1"><circle cx="144.7" cy="2259.6" r="5.3"/></g><g id="n111_2"><circle cx="210" cy="2259.6" r="5.3"/></g><g id="n111_3"><circle cx="243.3" cy="2259.6" r="5.3"/></g>
<g id="n112_0"><circle cx="80.7" cy="2279.9" r="5.3"/></g><g id="n112_1"><circle cx="144.7" cy="2279.9" r="5.3"/></g><g id="n112_2"><circle cx="210" cy="2279.9" r="5.3"/></g><g id="n112_3"><circle cx="243.3" cy="2279.9" r="5.3"/></g>
<g id="n113_0"><circle cx="44.7" cy="2300.2" r="5.3"/></g><g id="n113_1"><circle cx="78" cy="2300.2" r="5.3"/></g><g id="n113_2"><circle cx="111.3" cy="2300.2" r="5.3"/></g><g id="n113_3"><circle cx="144.7" cy="2300.2" r="5.3"/></g><g id="n113_4"><circle cx="210" cy="2300.2" r="5.3"/></g><g id="n113_5"><circle cx="243.3" cy="2300.2" r="5.3"/></g>
<g id="n114_0"><circle cx="44.7" cy="2320.4" r="5.3"/></g><g id="n114_1"><circle cx="78" cy="2320.4" r="5.3"/></g><g id="n114_2"><circle cx="111.3" cy="2320.4" r="5.3"/></g><g id="n114_3"><circle cx="144.7" cy="2320.4" r="5.3"/></g><g id="n114_4"><circle cx="210" cy="2320.4" r="5.3"/></g><g id="n114_5"><circle cx="243.3" cy="2320.4" r="5.3"/></g>
<g id="n115_0"><circle cx="43.3" cy="2340.7" r="5.3"/></g><g id="n115_1"><circle cx="76.7" cy="2340.7" r="5.3"/></g><g id="n115_2"><circle cx="110" cy="2340.7" r="5.3"/></g><g id="n115_3"><circle cx="143.3" cy="2340.7" r="5.3"/></g><g id="n115_4"><circle cx="176.7" cy="2340.7" r="5.3"/></g><g id="n115_5"><circle cx="210" cy="2340.7" r="5.3"/></g><g id="n115_6"><circle cx="251.3" cy="2340.7" r="5.3"/></g>
<g id="n116_0"><circle cx="43.3" cy="2361" r="5.3"/></g><g id="n116_1"><circle cx="76.7" cy="2361" r="5.3"/></g><g id="n116_2"><circle cx="110" cy="2361" r="5.3"/></g><g id="n116_3"><circle cx="143.3" cy="2361" r="5.3"/></g><g id="n116_4"><circle cx="176.7" cy="2361" r="5.3"/></g><g id="n116_5"><circle cx="210" cy="2361" r="5.3"/></g><g id="n116_6"><circle cx="259.3" cy="2361" r="5.3"/></g>
<g id="n117_0"><circle cx="27.3" cy="2381.2" r="5.3"/></g><g id="n117_1"><circle cx="60.7" cy="2381.2" r="5.3"/></g><g id="n117_2"><circle cx="110" cy="2381.2" r="5.3"/></g><g id="n117_3"><circle cx="168.7" cy="2381.2" r="5.3"/></g><g id="n117_4"><circle cx="259.3" cy="2381.2" r="5.3"/></g><g id="n117_5"><circle cx="308.7" cy="2381.2" r="5.3"/></g>
<g id="n118_0"><circle cx="27.3" cy="2401.5" r="5.3"/></g><g id="n118_1"><circle cx="60.7" cy="2401.5" r="5.3"/></g><g id="n118_2"><circle cx="110" cy="2401.5" r="5.3"/></g><g id="n118_3"><circle cx="167.3" cy="2401.5" r="5.3"/></g><g id="n118_4"><circle cx="259.3" cy="2401.5" r="5.3"/></g><g id="n118_5"><circle cx="322" cy="2401.5" r="5.3"/></g>
<g id="n119_0"><circle cx="60.7" cy="2421.8" r="5.3"/></g><g id="n119_1"><circle cx="134" cy="2421.8" r="5.3"/></g><g id="n119_2"><circle cx="167.3" cy="2421.8" r="5.3"/></g><g id="n119_3"><circle cx="259.3" cy="2421.8" r="5.3"/></g><g id="n119_4"><circle cx="296.7" cy="2421.8" r="5.3"/></g><g id="n119_5"><circle cx="330" cy="2421.8" r="5.3"/></g><g id="n119_6"><circle cx="371.3" cy="2421.8" r="5.3"/></g>
<g id="n120_0"><circle cx="60.7" cy="2442" r="5.3"/></g><g id="n120_1"><circle cx="134" cy="2442" r="5.3"/></g><g id="n120_2"><circle cx="167.3" cy="2442" r="5.3"/></g><g id="n120_3"><circle cx="259.3" cy="2442" r="5.3"/></g><g id="n120_4"><circle cx="296.7" cy="2442" r="5.3"/></g><g id="n120_5"><circle cx="330" cy="2442" r="5.3"/></g><g id="n120_6"><circle cx="379.3" cy="2442" r="5.3"/></g>
<g id="n121_0"><circle cx="124.7" cy="2462.3" r="5.3"/></g><g id="n121_1"><circle cx="167.3" cy="2462.3" r="5.3"/></g><g id="n121_2"><circle cx="230" cy="2462.3" r="5.3"/></g><g id="n121_3"><circle cx="263.3" cy="2462.3" r="5.3"/></g><g id="n121_4"><circle cx="296.7" cy="2462.3" r="5.3"/></g><g id="n121_5"><circle cx="330" cy="2462.3" r="5.3"/></g><g id="n121_6"><circle cx="363.3" cy="2462.3" r="5.3"/></g><g id="n121_7"><circle cx="396.7" cy="2462.3" r="5.3"/></g>
<g id="n122_0"><circle cx="108.7" cy="2482.6" r="5.3"/></g><g id="n122_1"><circle cx="167.3" cy="2482.6" r="5.3"/></g><g id="n122_2"><circle cx="230" cy="2482.6" r="5.3"/></g><g id="n122_3"><circle cx="263.3" cy="2482.6" r="5.3"/></g><g id="n122_4"><circle cx="296.7" cy="2482.6" r="5.3"/></g><g id="n122_5"><circle cx="330" cy="2482.6" r="5.3"/></g><g id="n122_6"><circle cx="363.3" cy="2482.6" r="5.3"/></g><g id="n122_7"><circle cx="396.7" cy="2482.6" r="5.3"/></g>
<g id="n123_0"><circle cx="67.3" cy="2502.8" r="5.3"/></g><g id="n123_1"><circle cx="108.7" cy="2502.8" r="5.3"/></g><g id="n123_2"><circle cx="167.3" cy="2502.8" r="5.3"/></g><g id="n123_3"><circle cx="222" cy="2502.8" r="5.3"/></g><g id="n123_4"><circle cx="255.3" cy="2502.8" r="5.3"/></g><g id="n123_5"><circle cx="296.7" cy="2502.8" r="5.3"/></g><g id="n123_6"><circle cx="330" cy="2502.8" r="5.3"/></g><g id="n123_7"><circle cx="396.7" cy="2502.8" r="5.3"/></g>
<g id="n124_0"><circle cx="67.3" cy="2523.1" r="5.3"/></g><g id="n124_1"><circle cx="108.7" cy="2523.1" r="5.3"/></g><g id="n124_2"><circle cx="167.3" cy="2523.1" r="5.3"/></g><g id="n124_3"><circle cx="222" cy="2523.1" r="5.3"/></g><g id="n124_4"><circle cx="255.3" cy="2523.1" r="5.3"/></g><g id="n124_5"><circle cx="296.7" cy="2523.1" r="5.3"/></g><g id="n124_6"><circle cx="330" cy="2523.1" r="5.3"/></g><g id="n124_7"><circle cx="396.7" cy="2523.1" r="5.3"/></g>
<g id="n125_0"><circle cx="67.3" cy="2543.4" r="5.3"/></g><g id="n125_1"><circle cx="100.7" cy="2543.4" r="5.3"/></g><g id="n125_2"><circle cx="134" cy="2543.4" r="5.3"/></g><g id="n125_3"><circle cx="167.3" cy="2543.4" r="5.3"/></g><g id="n125_4"><circle cx="215.3" cy="2543.4" r="5.3"/></g><g id="n125_5"><circle cx="248.7" cy="2543.4" r="5.3"/></g><g id="n125_6"><circle cx="296.7" cy="2543.4" r="5.3"/></g><g id="n125_7"><circle cx="330" cy="2543.4" r="5.3"/></g><g id="n125_8"><circle cx="396.7" cy="2543.4" r="5.3"/></g><g id="n125_9"><circle cx="430" cy="2543.4" r="5.3"/></g>
<g id="n126_0"><circle cx="67.3" cy="2563.6" r="5.3"/></g><g id="n126_1"><circle cx="100.7" cy="2563.6" r="5.3"/></g><g id="n126_2"><circle cx="134" cy="2563.6" r="5.3"/></g><g id="n126_3"><circle cx="167.3" cy="2563.6" r="5.3"/></g><g id="n126_4"><circle cx="215.3" cy="2563.6" r="5.3"/></g><g id="n126_5"><circle cx="248.7" cy="2563.6" r="5.3"/></g><g id="n126_6"><circle cx="296.7" cy="2563.6" r="5.3"/></g><g id="n126_7"><circle cx="330" cy="2563.6" r="5.3"/></g><g id="n126_8"><circle cx="396.7" cy="2563.6" r="5.3"/></g><g id="n126_9"><circle cx="430" cy="2563.6" r="5.3"/></g>
<g id="n127_0"><circle cx="67.3" cy="2583.9" r="5.3"/></g><g id="n127_1"><circle cx="167.3" cy="2583.9" r="5.3"/></g><g id="n127_2"><circle cx="200.7" cy="2583.9" r="5.3"/></g><g id="n127_3"><circle cx="234" cy="2583.9" r="5.3"/></g><g id="n127_4"><circle cx="296.7" cy="2583.9" r="5.3"/></g><g id="n127_5"><circle cx="330" cy="2583.9" r="5.3"/></g><g id="n127_6"><circle cx="363.3" cy="2583.9" r="5.3"/></g><g id="n127_7"><circle cx="396.7" cy="2583.9" r="5.3"/></g><g id="n127_8"><circle cx="430" cy="2583.9" r="5.3"/></g>
<g id="n128_0"><circle cx="67.3" cy="2604.2" r="5.3"/></g><g id="n128_1"><circle cx="167.3" cy="2604.2" r="5.3"/></g><g id="n128_2"><circle cx="200.7" cy="2604.2" r="5.3"/></g><g id="n128_3"><circle cx="234" cy="2604.2" r="5.3"/></g><g id="n128_4"><circle cx="296.7" cy="2604.2" r="5.3"/></g><g id="n128_5"><circle cx="330" cy="2604.2" r="5.3"/></g><g id="n128_6"><circle cx="363.3" cy="2604.2" r="5.3"/></g><g id="n128_7"><circle cx="396.7" cy="2604.2" r="5.3"/></g><g id="n128_8"><circle cx="430" cy="2604.2" r="5.3"/></g>
<g id="n129_0"><circle cx="67.3" cy="2624.4" r="5.3"/></g><g id="n129_1"><circle cx="167.3" cy="2624.4" r="5.3"/></g><g id="n129_2"><circle cx="234" cy="2624.4" r="5.3"/></g><g id="n129_3"><circle cx="296.7" cy="2624.4" r="5.3"/></g><g id="n129_4"><circle cx="363.3" cy="2624.4" r="5.3"/></g><g id="n129_5"><circle cx="396.7" cy="2624.4" r="5.3"/></g><g id="n129_6"><circle cx="430" cy="2624.4" r="5.3"/></g>
<g id="n130_0"><circle cx="67.3" cy="2644.7" r="5.3"/></g><g id="n130_1"><circle cx="167.3" cy="2644.7" r="5.3"/></g><g id="n130_2"><circle cx="234" cy="2644.7" r="5.3"/></g><g id="n130_3"><circle cx="296.7" cy="2644.7" r="5.3"/></g><g id="n130_4"><circle cx="363.3" cy="2644.7" r="5.3"/></g><g id="n130_5"><circle cx="396.7" cy="2644.7" r="5.3"/></g><g id="n130_6"><circle cx="430" cy="2644.7" r="5.3"/></g>
<g id="n131_0"><circle cx="34" cy="2665" r="5.3"/></g><g id="n131_1"><circle cx="67.3" cy="2665" r="5.3"/></g><g id="n131_2"><circle cx="167.3" cy="2665" r="5.3"/></g><g id="n131_3"><circle cx="234" cy="2665" r="5.3"/></g><g id="n131_4"><circle cx="298" cy="2665" r="5.3"/></g><g id="n131_5"><circle cx="363.3" cy="2665" r="5.3"/></g><g id="n131_6"><circle cx="430" cy="2665" r="5.3"/></g>
<g id="n132_0"><circle cx="34" cy="2685.2" r="5.3"/></g><g id="n132_1"><circle cx="67.3" cy="2685.2" r="5.3"/></g><g id="n132_2"><circle cx="167.3" cy="2685.2" r="5.3"/></g><g id="n132_3"><circle cx="234" cy="2685.2" r="5.3"/></g><g id="n132_4"><circle cx="300.7" cy="2685.2" r="5.3"/></g><g id="n132_5"><circle cx="363.3" cy="2685.2" r="5.3"/></g><g id="n132_6"><circle cx="430" cy="2685.2" r="5.3"/></g>
<g id="n133_0"><circle cx="34" cy="2705.5" r="5.3"/></g><g id="n133_1"><circle cx="67.3" cy="2705.5" r="5.3"/></g><g id="n133_2"><circle cx="100.7" cy="2705.5" r="5.3"/></g><g id="n133_3"><circle cx="134" cy="2705.5" r="5.3"/></g><g id="n133_4"><circle cx="167.3" cy="2705.5" r="5.3"/></g><g id="n133_5"><circle cx="200.7" cy="2705.5" r="5.3"/></g><g id="n133_6"><circle cx="234" cy="2705.5" r="5.3"/></g><g id="n133_7"><circle cx="267.3" cy="2705.5" r="5.3"/></g><g id="n133_8"><circle cx="300.7" cy="2705.5" r="5.3"/></g><g id="n133_9"><circle cx="363.3" cy="2705.5" r="5.3"/></g>
<g id="n134_0"><circle cx="34" cy="2725.8" r="5.3"/></g><g id="n134_1"><circle cx="67.3" cy="2725.8" r="5.3"/></g><g id="n134_2"><circle cx="100.7" cy="2725.8" r="5.3"/></g><g id="n134_3"><circle cx="134" cy="2725.8" r="5.3"/></g><g id="n134_4"><circle cx="167.3" cy="2725.8" r="5.3"/></g><g id="n134_5"><circle cx="200.7" cy="2725.8" r="5.3"/></g><g id="n134_6"><circle cx="234" cy="2725.8" r="5.3"/></g><g id="n134_7"><circle cx="267.3" cy="2725.8" r="5.3"/></g><g id="n134_8"><circle cx="300.7" cy="2725.8" r="5.3"/></g><g id="n134_9"><circle cx="363.3" cy="2725.8" r="5.3"/></g>
<g id="n135_0"><circle cx="10" cy="2746" r="5.3"/></g><g id="n135_1"><circle cx="43.3" cy="2746" r="5.3"/></g><g id="n135_2"><circle cx="92.7" cy="2746" r="5.3"/></g><g id="n135_3"><circle cx="126" cy="2746" r="5.3"/></g><g id="n135_4"><circle cx="200.7" cy="2746" r="5.3"/></g><g id="n135_5"><circle cx="267.3" cy="2746" r="5.3"/></g><g id="n135_6"><circle cx="339.3" cy="2746" r="5.3"/></g><g id="n135_7"><circle cx="372.7" cy="2746" r="5.3"/></g>
<g id="n136_0"><circle cx="10" cy="2766.3" r="5.3"/></g><g id="n136_1"><circle cx="43.3" cy="2766.3" r="5.3"/></g><g id="n136_2"><circle cx="92.7" cy="2766.3" r="5.3"/></g><g id="n136_3"><circle cx="126" cy="2766.3" r="5.3"/></g><g id="n136_4"><circle cx="200.7" cy="2766.3" r="5.3"/></g><g id="n136_5"><circle cx="267.3" cy="2766.3" r="5.3"/></g><g id="n136_6"><circle cx="339.3" cy="2766.3" r="5.3"/></g><g id="n136_7"><circle cx="372.7" cy="2766.3" r="5.3"/></g>
<g id="n137_0"><circle cx="10" cy="2786.6" r="5.3"/></g><g id="n137_1"><circle cx="267.3" cy="2786.6" r="5.3"/></g><g id="n137_2"><circle cx="316.7" cy="2786.6" r="5.3"/></g><g id="n137_3"><circle cx="350" cy="2786.6" r="5.3"/></g>
<g id="n138_0"><circle cx="10" cy="2806.8" r="5.3"/></g><g id="n138_1"><circle cx="267.3" cy="2806.8" r="5.3"/></g><g id="n138_2"><circle cx="316.7" cy="2806.8" r="5.3"/></g><g id="n138_3"><circle cx="350" cy="2806.8" r="5.3"/></g>
<g id="n139_0"><circle cx="316.7" cy="2827.1" r="5.3"/></g><g id="n139_1"><circle cx="350" cy="2827.1" r="5.3"/></g>
<g id="n140_0"><circle cx="316.7" cy="2847.4" r="5.3"/></g><g id="n140_1"><circle cx="350" cy="2847.4" r="5.3"/></g>
<g id="n141_0"><circle cx="316.7" cy="2867.6" r="5.3"/></g><g id="n141_1"><circle cx="350" cy="2867.6" r="5.3"/></g>
<g id="n142_0"><circle cx="316.7" cy="2887.9" r="5.3"/></g><g id="n142_1"><circle cx="350" cy="2887.9" r="5.3"/></g>
<g id="n143_0"><circle cx="316.7" cy="2908.2" r="5.3"/></g>
<g id="n144_0"><circle cx="316.7" cy="2928.4" r="5.3"/></g>
<g id="n145_0"><circle cx="316.7" cy="2948.7" r="5.3"/></g>
<g id="n146_0"><circle cx="316.7" cy="2969" r="5.3"/></g>
</g>
</svg>
